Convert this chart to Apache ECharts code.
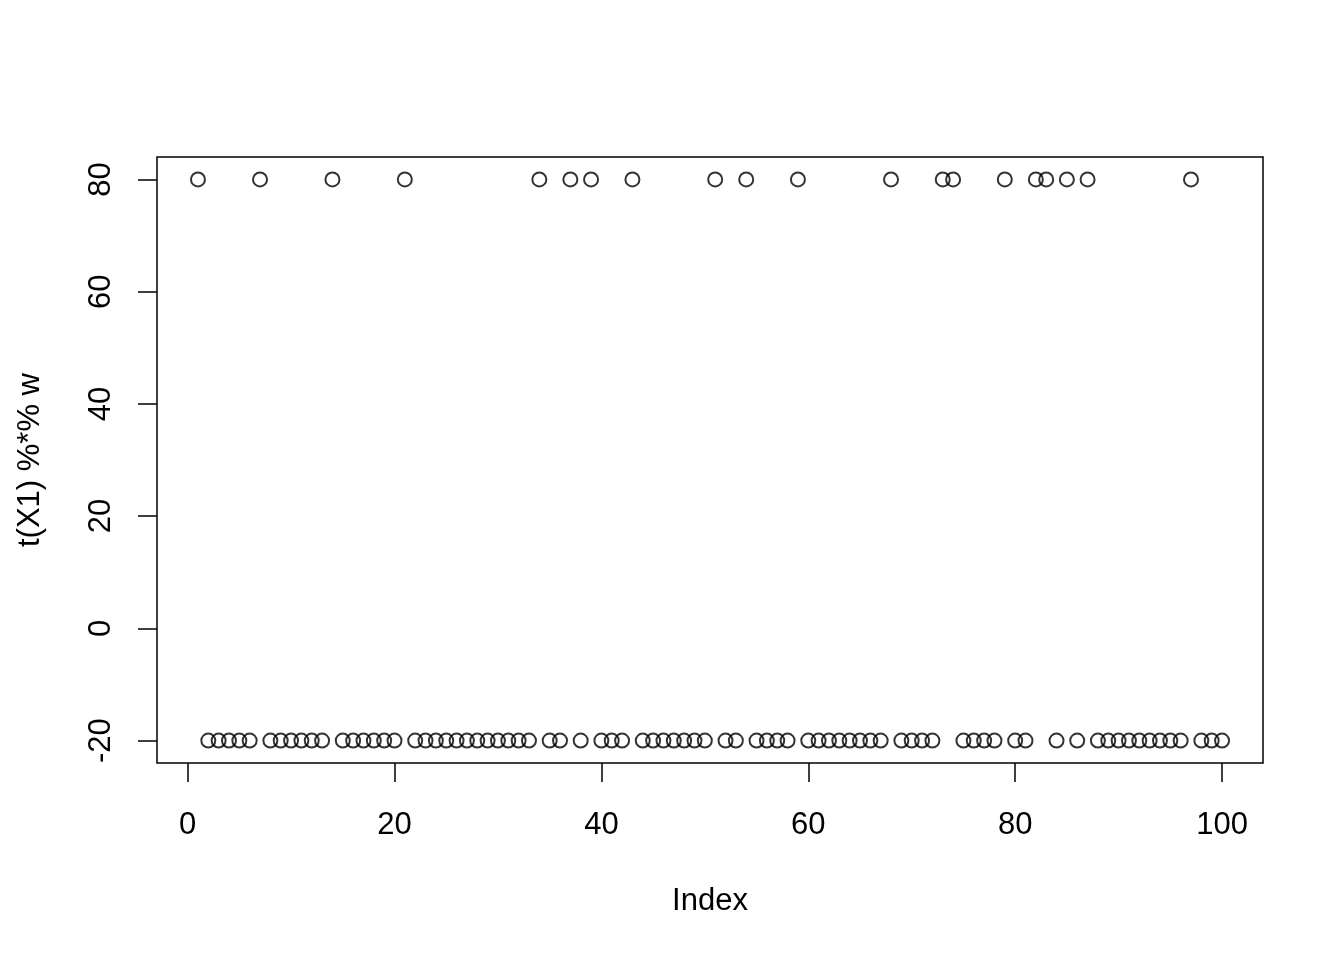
<!DOCTYPE html>
<html>
<head>
    <meta charset="utf-8">
    <title>t(X1) %*% w</title>
    <script src="https://cdn.jsdelivr.net/npm/echarts@6/dist/echarts.min.js"></script>
    <style>
        html, body { margin: 0; padding: 0; background: #fff; }
    </style>
</head>
<body>
<div id="main" style="width: 1344px;height:960px;"></div>

<script type="text/javascript">
    // projected values, one per index 1..100
    var values = [
        80, -20, -20, -20, -20, -20, 80, -20, -20, -20,
        -20, -20, -20, 80, -20, -20, -20, -20, -20, -20,
        80, -20, -20, -20, -20, -20, -20, -20, -20, -20,
        -20, -20, -20, 80, -20, -20, 80, -20, 80, -20,
        -20, -20, 80, -20, -20, -20, -20, -20, -20, -20,
        80, -20, -20, 80, -20, -20, -20, -20, 80, -20,
        -20, -20, -20, -20, -20, -20, -20, 80, -20, -20,
        -20, -20, 80, 80, -20, -20, -20, -20, 80, -20,
        -20, 80, 80, -20, 80, -20, 80, -20, -20, -20,
        -20, -20, -20, -20, -20, -20, 80, -20, -20, -20
    ];
    var xTicks = [0, 20, 40, 60, 80, 100];
    var yTicks = [-20, 0, 20, 40, 60, 80];

    var points = [];
    for (var i = 0; i < values.length; i++) {
        points.push([i + 1, values[i]]);
    }

    var font = '"Liberation Sans", Arial, Helvetica, sans-serif';
    var myChart = echarts.init(document.getElementById('main'));

    var option = {
        animation: false,
        backgroundColor: '#ffffff',
        grid: {
            left: 157,
            top: 157,
            right: 81,
            bottom: 197,
            show: true,
            borderColor: '#000',
            borderWidth: 1.5,
            backgroundColor: 'transparent'
        },
        xAxis: {
            type: 'value',
            min: -2.96,
            max: 103.96,
            name: 'Index',
            nameLocation: 'middle',
            nameGap: 123,
            nameTextStyle: { color: '#000', fontSize: 31, fontFamily: font },
            axisLine: { show: false, onZero: false },
            splitLine: { show: false },
            axisTick: {
                show: true,
                customValues: xTicks,
                length: 19,
                lineStyle: { color: '#000', width: 1.5 }
            },
            axisLabel: {
                customValues: xTicks,
                margin: 47,
                color: '#000',
                fontSize: 31,
                fontFamily: font
            }
        },
        yAxis: {
            type: 'value',
            min: -24,
            max: 84,
            name: 't(X1) %*% w',
            nameLocation: 'middle',
            nameGap: 111,
            nameRotate: 90,
            nameTextStyle: { color: '#000', fontSize: 31, fontFamily: font },
            axisLine: { show: false, onZero: false },
            splitLine: { show: false },
            axisTick: {
                show: true,
                customValues: yTicks,
                length: 19,
                lineStyle: { color: '#000', width: 1.5 }
            },
            axisLabel: {
                customValues: yTicks,
                rotate: 90,
                margin: 40,
                color: '#000',
                fontSize: 31,
                fontFamily: font
            }
        },
        series: [{
            type: 'scatter',
            data: points,
            symbol: 'circle',
            symbolSize: 14,
            itemStyle: {
                color: 'rgba(0,0,0,0)',
                borderColor: '#000',
                borderWidth: 2
            },
            emphasis: { disabled: true }
        }]
    };

    myChart.setOption(option);
</script>
</body>
</html>
